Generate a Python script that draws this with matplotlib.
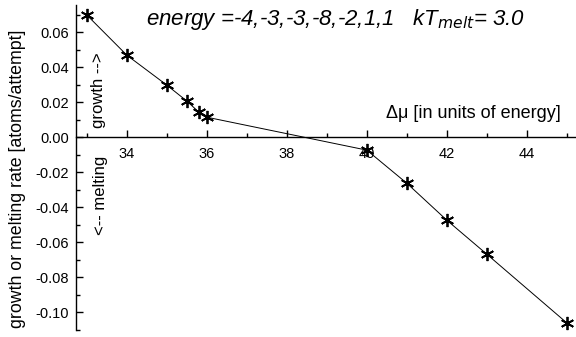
import numpy as np
import matplotlib
matplotlib.use('Agg')
from matplotlib import pyplot as plt
from matplotlib.ticker import MultipleLocator

# values
delta_mu = [33.0, 34.0, 35.0, 35.5, 35.8, 36.0, 40.0, 41.0, 42.0, 43.0, 45.0]
rate = [0.0697, 0.0468, 0.0297, 0.0206, 0.0143, 0.0114, -0.0074, -0.0263, -0.0474, -0.0668, -0.1060]

x_ticks = [34, 36, 38, 40, 42, 44]
y_ticks = [-0.10, -0.08, -0.06, -0.04, -0.02, 0.00, 0.02, 0.04, 0.06]

plt.rcParams['font.family'] = ['Liberation Sans', 'DejaVu Sans']

fig = plt.figure(figsize=(5.76, 3.37), dpi=100)
ax = fig.add_axes([0.132, 0.021, 0.866, 0.964])

ax.plot(delta_mu, rate, color='black', lw=0.7,
        marker=(6, 2, 0), markersize=9.5, markeredgewidth=1.3, markeredgecolor='black')

ax.set_xlim(32.73, 45.2)
ax.set_ylim(-0.110, 0.0754)

# axes cross at y = 0
ax.spines['bottom'].set_position(('data', 0))
ax.spines['top'].set_visible(False)
ax.spines['right'].set_visible(False)
ax.spines['left'].set_linewidth(1.0)
ax.spines['bottom'].set_linewidth(1.0)

ax.set_xticks(x_ticks)
ax.xaxis.set_minor_locator(MultipleLocator(1))
ax.set_yticks(y_ticks)
ax.set_yticklabels(['%.2f' % v for v in y_ticks])
ax.yaxis.set_minor_locator(MultipleLocator(0.01))

ax.tick_params(axis='x', which='major', direction='in', length=5, width=1, labelsize=10.5, pad=7)
ax.tick_params(axis='x', which='minor', direction='in', length=3, width=1)
ax.tick_params(axis='y', which='major', direction='in', length=5, width=1, labelsize=10.5, pad=5)
ax.tick_params(axis='y', which='minor', direction='in', length=3, width=1)

fig.text(0.03, 0.47, 'growth or melting rate [atoms/attempt]', rotation=90, fontsize=12.8,
         ha='center', va='center')

ax.text(44.85, 0.0109, '\u0394\u03bc [in units of energy]', fontsize=13, ha='right', va='baseline')
ax.text(0.911, 0.926, r'energy =-4,-3,-3,-8,-2,1,1   kT$_{melt}$= 3.0', transform=fig.transFigure,
        fontsize=16, style='italic', ha='right', va='baseline')

ax.text(33.28, 0.0268, 'growth -->', rotation=90, fontsize=12, ha='center', va='center')
ax.text(33.33, -0.0331, '<-- melting', rotation=90, fontsize=12, ha='center', va='center')

fig.savefig('out.png', dpi=100)
